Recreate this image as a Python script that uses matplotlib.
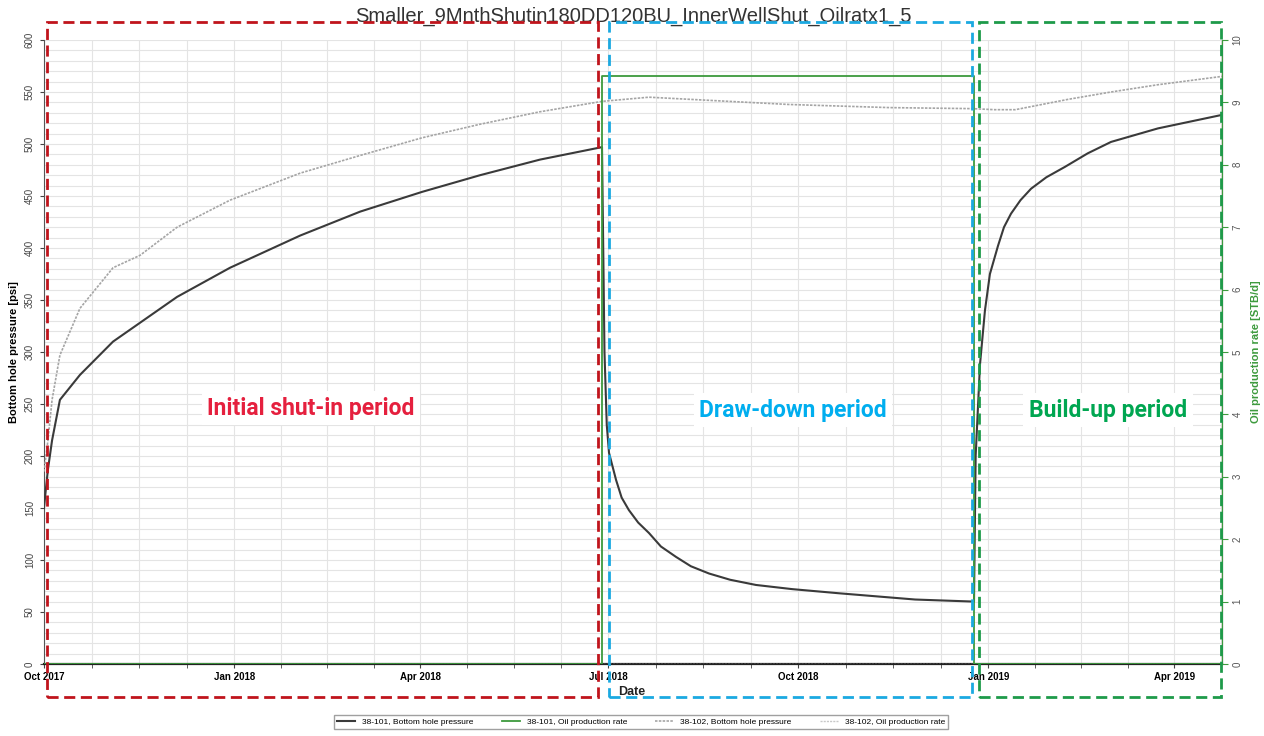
import pandas as pd
import matplotlib
matplotlib.use("Agg")
from matplotlib import pyplot as plt
import matplotlib.dates as mdates
from matplotlib.patches import Rectangle
from matplotlib.ticker import MultipleLocator, FixedLocator
import numpy as np

plt.rcParams['font.family'] = ['Liberation Sans', 'DejaVu Sans']

title = "Smaller_9MnthShutin180DD120BU_InnerWellShut_Oilratx1_5"
start = pd.Timestamp("2017-10-01")
end_day = 570

# 38-101 bottom hole pressure (days since start, psi)
days_101_bhp = [0, 1, 1.9, 3.9, 7.7, 17.4, 33.4, 64.4, 90, 124, 153, 183, 211, 240, 270,
                271.2, 272.3, 273.4, 276.8, 279.5, 283, 287.5, 292.7, 298.5, 305.8, 313, 321.8,
                332, 344.5, 362, 384.7, 421.5, 450,
                450.8, 452.9, 455.3, 457.7, 461.6, 464.5, 467.9, 472.5, 477.6, 485, 494, 505,
                516.3, 539, 570]
bhp_101 = [150, 170, 187, 215, 254, 278, 310, 353, 381, 412, 435, 454, 470, 485, 497,
           300, 230, 203, 177, 160, 148, 136, 126, 113, 103, 94, 87,
           81, 76, 72, 68, 62, 60,
           200, 288, 340, 375, 402, 420, 433, 446, 457, 468, 478, 491,
           502, 515, 528]

# 38-102 bottom hole pressure
days_102_bhp = [0, 1.9, 3.9, 7.7, 17.4, 33.4, 46.5, 64.4, 90, 124, 153, 183, 211, 240, 270,
                292.7, 312, 360.5, 409, 449, 460, 470, 495.7, 516.3, 539, 570]
bhp_102 = [185, 215, 254, 297, 342, 381, 393, 420, 446, 472, 489, 506, 519, 531, 541,
           545, 543, 538, 535, 534, 533, 533, 543, 550, 557, 565]

# oil production rates (STB/d)
days_101_oil = [0, 270, 270, 450, 450, 570]
oil_101 = [0, 0, 9.43, 9.43, 0, 0]
days_102_oil = [0, 570]
oil_102 = [0, 0]

labels = ["38-101, Bottom hole pressure", "38-101, Oil production rate",
          "38-102, Bottom hole pressure", "38-102, Oil production rate"]


def to_dates(days):
    return start + pd.to_timedelta(days, unit="D")


W, H = 1264, 736
fig = plt.figure(figsize=(W / 100, H / 100), dpi=100)
ax = fig.add_axes([44 / W, 1 - 664 / H, (1222 - 44) / W, (664 - 40) / H])
ax2 = ax.twinx()

l1, = ax.plot(to_dates(days_101_bhp), bhp_101, color="#3a3a3a", lw=1.5, zorder=4)
l3, = ax.plot(to_dates(days_102_bhp), bhp_102, color="#a5a5a5", lw=1.2,
              linestyle=(0, (1.5, 0.8)), zorder=3)
l2, = ax2.plot(to_dates(days_101_oil), oil_101, color="#3d9a3d", lw=1.3, zorder=3)
l4, = ax2.plot(to_dates(days_102_oil), oil_102, color="#c8c8c8", lw=1.0,
               linestyle=(0, (1.5, 0.8)), zorder=2)

ax.set_xlim(start, to_dates(end_day))
ax.set_ylim(0, 600)
ax2.set_ylim(0, 10)

# x ticks: quarters, grid at quarter/4
ax.xaxis.set_major_locator(mdates.MonthLocator(bymonth=[1, 4, 7, 10]))
ax.xaxis.set_major_formatter(mdates.DateFormatter("%b %Y"))
qs = pd.date_range("2017-10-01", "2019-07-01", freq="QS")
qn = mdates.date2num(qs)
minor = []
for a, b in zip(qn[:-1], qn[1:]):
    minor += list(np.linspace(a, b, 5)[1:-1])
ax.xaxis.set_minor_locator(FixedLocator(minor))

ax.yaxis.set_major_locator(MultipleLocator(50))
ax.yaxis.set_minor_locator(MultipleLocator(10))
ax2.yaxis.set_major_locator(MultipleLocator(1))

ax.grid(True, which="both", color="#e4e4e4", lw=0.8)
ax.set_axisbelow(True)

ax.tick_params(axis="x", which="major", labelsize=7, length=3, color="#444", pad=3)
ax.tick_params(axis="x", which="minor", length=3, color="#444")
ax.tick_params(axis="y", which="major", labelsize=7, length=3, labelrotation=90,
               labelcolor="#444", color="#444")
ax.tick_params(axis="y", which="minor", length=0)
for t in ax.get_xticklabels():
    t.set_fontweight("bold")
for t in ax.get_yticklabels():
    t.set_va("center")
ax2.tick_params(axis="y", labelsize=7, length=4, labelrotation=90,
                color="#3d9a3d", labelcolor="#555")
for t in ax2.get_yticklabels():
    t.set_va("center")

for a in (ax, ax2):
    a.spines["top"].set_visible(False)
ax.spines["bottom"].set_linewidth(1.6)
ax.spines["bottom"].set_color("#222")
ax.spines["left"].set_color("#555")
ax2.spines["right"].set_color("#3d9a3d")
ax2.spines["left"].set_visible(False)
ax2.spines["bottom"].set_visible(False)

ax.set_ylabel("Bottom hole pressure [psi]", fontsize=8, fontweight="bold", labelpad=4)
ax2.set_ylabel("Oil production rate [STB/d]", fontsize=8, fontweight="bold",
               color="#3d9a3d", rotation=90, labelpad=6)
fig.text(632 / W, 1 - 692 / H, "Date", ha="center", va="center", fontsize=9,
         fontweight="bold", color="#222")
fig.text(633 / W, 1 - 16 / H, title, ha="center", va="center", fontsize=14.5, color="#333")

fig.legend([l1, l2, l3, l4], labels, loc="center", ncol=4,
           bbox_to_anchor=(641 / W, 1 - 722 / H), fontsize=6, frameon=True,
           fancybox=False, edgecolor="#888", handlelength=2.2, columnspacing=3.4,
           borderpad=0.4)

# period boxes
boxes = [(47, 598, "#c0141c"), (609, 972, "#1ba9e1"), (979, 1221, "#1e9a4a")]
for x0, x1, c in boxes:
    fig.add_artist(Rectangle((x0 / W, 1 - 697 / H), (x1 - x0) / W, (697 - 22) / H,
                             transform=fig.transFigure, fill=False, edgecolor=c,
                             lw=2.0, linestyle=(0, (4, 2)), zorder=10))

notes = [(311, 408, "Initial shut-in period", "#e5203e"),
         (793, 410, "Draw-down period", "#00aeef"),
         (1108, 410, "Build-up period", "#00a651")]
for x, y, s, c in notes:
    fig.text(x / W, 1 - y / H, s, ha="center", va="center", fontsize=16.5,
             fontweight="bold", color=c, family=["Roboto", "DejaVu Sans"],
             bbox=dict(facecolor="white", edgecolor="none", pad=4), zorder=11)

fig.savefig("out.png", dpi=100)
